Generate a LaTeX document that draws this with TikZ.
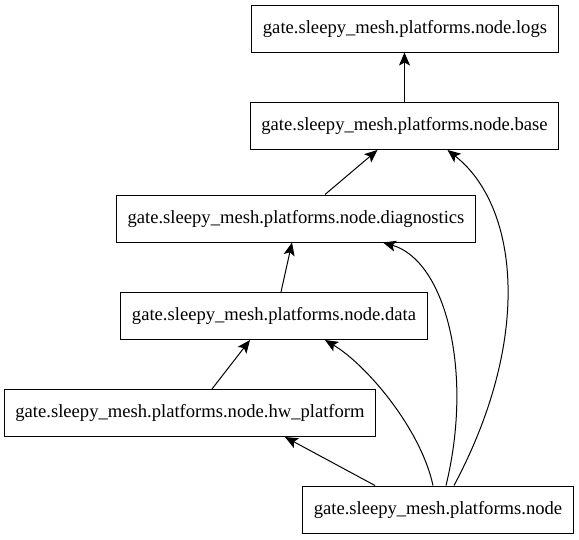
\documentclass[tikz,border=0pt]{standalone}
\usepackage{fontspec}
\setmainfont{Liberation Serif}
\usetikzlibrary{arrows.meta}

\begin{document}
\begin{tikzpicture}[x=1pt, y=-1pt,
    module/.style={draw, line width=1pt, minimum height=47pt, inner xsep=11pt,
      font=\fontsize{18.6}{22}\selectfont},
    dep/.style={-{Stealth[length=13pt, width=11pt, inset=3pt]}, line width=1pt},
]
  \useasboundingbox (0,0) rectangle (579,539);

  \node[module] (logs) at (405,28.5) {gate.sleepy\_mesh.platforms.node.logs};
  \node[module] (base) at (404.5,126) {gate.sleepy\_mesh.platforms.node.base};
  \node[module] (diag) at (296,218.5) {gate.sleepy\_mesh.platforms.node.diagnostics};
  \node[module] (data) at (274,316) {gate.sleepy\_mesh.platforms.node.data};
  \node[module] (hw) at (190,413) {gate.sleepy\_mesh.platforms.node.hw\_platform};
  \node[module] (pkg) at (438,509.5) {gate.sleepy\_mesh.platforms.node};

  % straight dependencies
  \draw[dep] (base.north) -- (base.north |- logs.south);
  \draw[dep] ([xshift=29pt]diag.north) -- ([xshift=-27pt]base.south);
  \draw[dep] ([xshift=7pt]data.north) -- ([xshift=-4pt]diag.south);
  \draw[dep] ([xshift=22pt]hw.north) -- ([xshift=-24pt]data.south);
  \draw[dep] ([xshift=-63pt]pkg.north) -- ([xshift=95pt]hw.south);

  % curved dependencies from the package
  \draw[dep] ([xshift=-5pt]pkg.north) .. controls +(-12,-56) and +(42,25) .. ([xshift=51pt]data.south);
  \draw[dep] ([xshift=8pt]pkg.north) .. controls +(28,-115) and +(62,18) .. ([xshift=87pt]diag.south);
  \draw[dep] ([xshift=16pt]pkg.north) .. controls +(80,-150) and +(70,55) .. ([xshift=43pt]base.south);
\end{tikzpicture}
\end{document}
